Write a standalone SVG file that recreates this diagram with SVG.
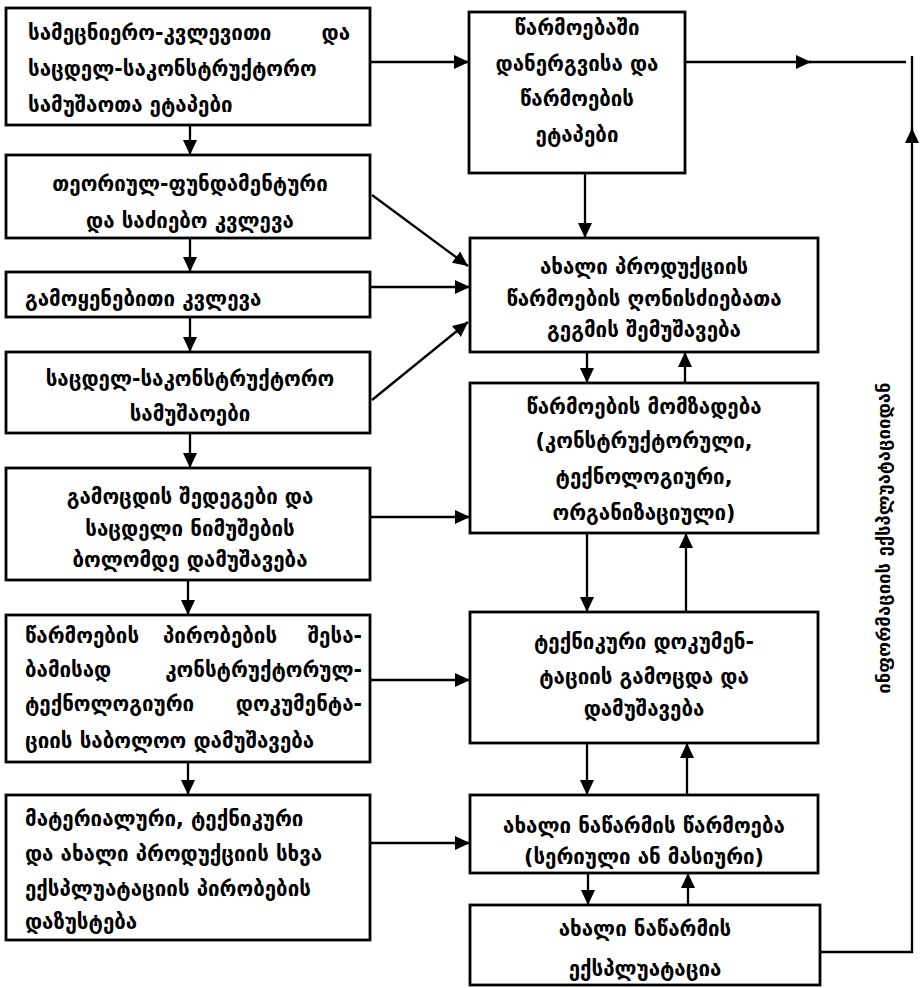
<svg xmlns="http://www.w3.org/2000/svg" width="922" height="988" viewBox="0 0 922 988">
<style>
  .box { fill: #ffffff; stroke: #000000; stroke-width: 2.8; }
  .ln { fill: none; stroke: #000000; stroke-width: 2.3; }
  .t { font-family: "DejaVu Sans", "Noto Sans", sans-serif; font-weight: bold; font-size: 20.5px; fill: #000000; }
  .c { text-anchor: middle; }
  .e { text-anchor: end; }
  .vt { font-family: "DejaVu Sans", "Noto Sans", sans-serif; font-weight: bold; font-size: 18.5px; fill: #000000; text-anchor: middle; }
</style>
<defs>
  <marker id="ah" markerUnits="userSpaceOnUse" markerWidth="16" markerHeight="14" refX="15" refY="7" orient="auto">
    <path d="M0,0 L15,7 L0,14 z" fill="#000000"/>
  </marker>
</defs>
<rect width="922" height="988" fill="#ffffff"/>

<g id="connectors">
  <!-- left column vertical -->
  <line class="ln" x1="190" y1="125" x2="190" y2="155" marker-end="url(#ah)"/>
  <line class="ln" x1="190" y1="238" x2="190" y2="272" marker-end="url(#ah)"/>
  <line class="ln" x1="190" y1="317" x2="190" y2="352" marker-end="url(#ah)"/>
  <line class="ln" x1="190" y1="433" x2="190" y2="468" marker-end="url(#ah)"/>
  <line class="ln" x1="188" y1="580" x2="188" y2="615" marker-end="url(#ah)"/>
  <line class="ln" x1="188" y1="762" x2="188" y2="795" marker-end="url(#ah)"/>
  <!-- left to right -->
  <line class="ln" x1="370" y1="62" x2="469" y2="62" marker-end="url(#ah)"/>
  <line class="ln" x1="372" y1="195" x2="468" y2="266" marker-end="url(#ah)"/>
  <line class="ln" x1="370" y1="287" x2="470" y2="287" marker-end="url(#ah)"/>
  <line class="ln" x1="372" y1="400" x2="468" y2="322" marker-end="url(#ah)"/>
  <line class="ln" x1="370" y1="517" x2="470" y2="517" marker-end="url(#ah)"/>
  <line class="ln" x1="370" y1="680" x2="470" y2="680" marker-end="url(#ah)"/>
  <line class="ln" x1="370" y1="843" x2="470" y2="843" marker-end="url(#ah)"/>
  <!-- right column vertical -->
  <line class="ln" x1="585" y1="173" x2="585" y2="238" marker-end="url(#ah)"/>
  <line class="ln" x1="587" y1="352" x2="587" y2="383" marker-end="url(#ah)"/>
  <line class="ln" x1="685" y1="383" x2="685" y2="352" marker-end="url(#ah)"/>
  <line class="ln" x1="587" y1="533" x2="587" y2="612" marker-end="url(#ah)"/>
  <line class="ln" x1="686" y1="612" x2="686" y2="533" marker-end="url(#ah)"/>
  <line class="ln" x1="587" y1="743" x2="587" y2="795" marker-end="url(#ah)"/>
  <line class="ln" x1="687" y1="795" x2="687" y2="743" marker-end="url(#ah)"/>
  <line class="ln" x1="588" y1="873" x2="588" y2="905" marker-end="url(#ah)"/>
  <line class="ln" x1="688" y1="905" x2="688" y2="873" marker-end="url(#ah)"/>
  <!-- top output and feedback loop -->
  <line class="ln" x1="685" y1="62" x2="811" y2="62" marker-end="url(#ah)"/>
  <line class="ln" x1="809" y1="62" x2="906" y2="62"/>
  <polyline class="ln" points="820,952 912,952 912,128" marker-end="url(#ah)"/>
  <line class="ln" x1="912" y1="130" x2="912" y2="56"/>
</g>

<g id="n1">
  <rect class="box" x="6" y="8" width="364" height="117"/>
  <text class="t" x="28" y="40">სამეცნიერო-კვლევითი</text>
  <text class="t e" x="350" y="40">და</text>
  <text class="t" x="28" y="76">საცდელ-საკონსტრუქტორო</text>
  <text class="t" x="28" y="112">სამუშაოთა ეტაპები</text>
</g>
<g id="n2">
  <rect class="box" x="6" y="155" width="364" height="83"/>
  <text class="t c" x="190" y="191">თეორიულ-ფუნდამენტური</text>
  <text class="t c" x="190" y="228">და საძიებო კვლევა</text>
</g>
<g id="n3">
  <rect class="box" x="6" y="272" width="364" height="45"/>
  <text class="t" x="25" y="306">გამოყენებითი კვლევა</text>
</g>
<g id="n4">
  <rect class="box" x="6" y="352" width="364" height="81"/>
  <text class="t c" x="190" y="386">საცდელ-საკონსტრუქტორო</text>
  <text class="t c" x="190" y="421">სამუშაოები</text>
</g>
<g id="n5">
  <rect class="box" x="6" y="468" width="364" height="112"/>
  <text class="t c" x="190" y="504">გამოცდის შედეგები და</text>
  <text class="t c" x="190" y="536">საცდელი ნიმუშების</text>
  <text class="t c" x="190" y="567">ბოლომდე დამუშავება</text>
</g>
<g id="n6">
  <rect class="box" x="6" y="615" width="364" height="147"/>
  <text class="t" x="25" y="643">წარმოების</text>
  <text class="t c" x="220" y="643">პირობების</text>
  <text class="t e" x="362" y="643">შესა-</text>
  <text class="t" x="25" y="677">ბამისად</text>
  <text class="t e" x="362" y="677">კონსტრუქტორულ-</text>
  <text class="t" x="25" y="711">ტექნოლოგიური</text>
  <text class="t e" x="362" y="711">დოკუმენტა-</text>
  <text class="t" x="25" y="748">ციის საბოლოო დამუშავება</text>
</g>
<g id="n7">
  <rect class="box" x="6" y="795" width="364" height="145"/>
  <text class="t" x="25" y="826">მატერიალური, ტექნიკური</text>
  <text class="t" x="25" y="861">და ახალი პროდუქციის სხვა</text>
  <text class="t" x="25" y="896">ექსპლუატაციის პირობების</text>
  <text class="t" x="25" y="929">დაზუსტება</text>
</g>

<g id="nA">
  <rect class="box" x="469" y="12" width="216" height="161"/>
  <text class="t c" x="577" y="35">წარმოებაში</text>
  <text class="t c" x="577" y="71">დანერგვისა და</text>
  <text class="t c" x="577" y="106">წარმოების</text>
  <text class="t c" x="577" y="142">ეტაპები</text>
</g>
<g id="nB">
  <rect class="box" x="470" y="238" width="348" height="114"/>
  <text class="t c" x="644" y="274">ახალი პროდუქციის</text>
  <text class="t c" x="644" y="306">წარმოების ღონისძიებათა</text>
  <text class="t c" x="644" y="337">გეგმის შემუშავება</text>
</g>
<g id="nC">
  <rect class="box" x="470" y="383" width="348" height="150"/>
  <text class="t c" x="644" y="414">წარმოების მომზადება</text>
  <text class="t c" x="644" y="448">(კონსტრუქტორული,</text>
  <text class="t c" x="644" y="484">ტექნოლოგიური,</text>
  <text class="t c" x="644" y="520">ორგანიზაციული)</text>
</g>
<g id="nD">
  <rect class="box" x="470" y="612" width="348" height="131"/>
  <text class="t c" x="644" y="649">ტექნიკური დოკუმენ-</text>
  <text class="t c" x="644" y="684">ტაციის გამოცდა და</text>
  <text class="t c" x="644" y="716">დამუშავება</text>
</g>
<g id="nE">
  <rect class="box" x="470" y="795" width="348" height="78"/>
  <text class="t c" x="644" y="833">ახალი ნაწარმის წარმოება</text>
  <text class="t c" x="644" y="864">(სერიული ან მასიური)</text>
</g>
<g id="nF">
  <rect class="box" x="470" y="905" width="350" height="80"/>
  <text class="t c" x="645" y="936">ახალი ნაწარმის</text>
  <text class="t c" x="645" y="976">ექსპლუატაცია</text>
</g>

<g id="feedback-label">
  <text class="vt" transform="translate(890,538) rotate(-90)">ინფორმაციის ექსპლუატაციიდან</text>
</g>
</svg>
